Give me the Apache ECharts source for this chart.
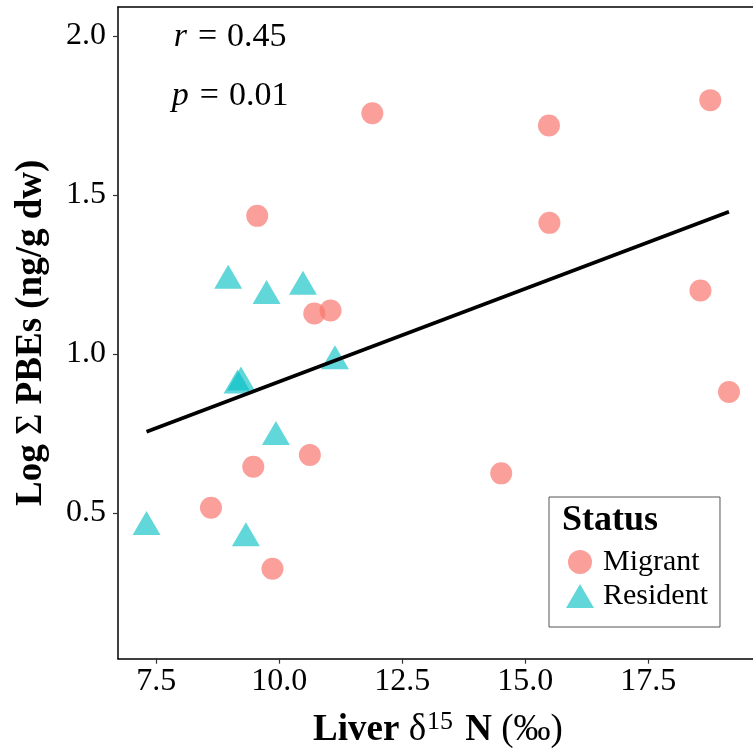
<!DOCTYPE html>
<html>
<head>
<meta charset="utf-8">
<script src="https://cdn.jsdelivr.net/npm/echarts@6/dist/echarts.min.js"></script>
<style>
html,body{margin:0;padding:0;background:#fff;}
#chart{width:753px;height:748px;}
</style>
</head>
<body>
<div id="chart"></div>
<script>
// ---- data ----
const migrantX = [9.55, 10.71, 11.04, 11.89, 15.48, 18.76, 15.49, 18.56, 19.14, 14.51, 9.47, 10.62, 8.61, 9.86];
const migrantY = [1.434, 1.127, 1.136, 1.757, 1.718, 1.798, 1.412, 1.199, 0.880, 0.624, 0.645, 0.682, 0.516, 0.324];
const residentX = [8.96, 9.74, 10.48, 11.13, 9.22, 9.15, 9.93, 7.30, 9.32];
const residentY = [1.230, 1.182, 1.211, 0.977, 0.910, 0.900, 0.738, 0.455, 0.420];
const fitX = [7.30, 19.14];
const fitY = [0.755, 1.447];
const xTicks = [7.5, 10.0, 12.5, 15.0, 17.5];
const yTicks = [0.5, 1.0, 1.5, 2.0];
const statNames = ['r', 'p'];
const statValues = ['0.45', '0.01'];
const statX = [9.0, 9.0];
const statY = [1.995, 1.81];
const seriesNames = ['Migrant', 'Resident'];

const serif = '"Liberation Serif", "DejaVu Serif", serif';
const zip = (a, b) => a.map((v, i) => [v, b[i]]);

const chart = echarts.init(document.getElementById('chart'), null, {renderer: 'canvas'});

const xRange = {min: 6.72, max: 19.73};
const yRange = {min: 0.041, max: 2.091};

const option = {
  animation: false,
  backgroundColor: '#ffffff',
  grid: {left: 118, top: 7, width: 640, height: 651.7, containLabel: false, outerBoundsMode: 'none'},
  xAxis: [{
    type: 'value', min: xRange.min, max: xRange.max,
    name: '{b|Liver }{r|δ}{s|15}{b| N }{r|(‰)}',
    nameLocation: 'middle', nameGap: 50,
    nameTextStyle: {
      rich: {
        b: {fontFamily: serif, fontWeight: 'bold', fontSize: 37, color: '#000', lineHeight: 40, verticalAlign: 'bottom'},
        r: {fontFamily: serif, fontSize: 37, color: '#000', lineHeight: 40, verticalAlign: 'bottom'},
        s: {fontFamily: serif, fontSize: 26, color: '#000', lineHeight: 40, verticalAlign: 'top', padding: [0, 3, 0, 1]}
      }
    },
    axisLine: {show: true, onZero: false, lineStyle: {color: '#000', width: 1.5}},
    axisTick: {show: true, length: 5, customValues: xTicks, lineStyle: {color: '#333', width: 1.2}},
    axisLabel: {show: true, customValues: xTicks, margin: 7, formatter: v => Number(v).toFixed(1),
      fontFamily: serif, fontSize: 32, color: '#000'},
    splitLine: {show: false}
  }, {
    type: 'value', position: 'top', min: xRange.min, max: xRange.max,
    axisLine: {show: true, onZero: false, lineStyle: {color: '#000', width: 1.5}},
    axisTick: {show: false}, axisLabel: {show: false}, splitLine: {show: false}
  }],
  yAxis: {
    type: 'value', min: yRange.min, max: yRange.max,
    name: '{b|Log }{r|Σ}{b| PBEs (ng/g dw)}',
    nameLocation: 'middle', nameGap: 68, nameRotate: 90,
    nameTextStyle: {
      rich: {
        b: {fontFamily: serif, fontWeight: 'bold', fontSize: 37, color: '#000'},
        r: {fontFamily: serif, fontSize: 37, color: '#000'}
      }
    },
    axisLine: {show: true, onZero: false, lineStyle: {color: '#000', width: 1.5}},
    axisTick: {show: true, length: 5, customValues: yTicks, lineStyle: {color: '#333', width: 1.2}},
    axisLabel: {show: true, customValues: yTicks, margin: 12, formatter: v => Number(v).toFixed(1),
      fontFamily: serif, fontSize: 32, color: '#000'},
    splitLine: {show: false}
  },
  legend: {
    show: true,
    data: [{name: seriesNames[0], icon: 'circle'}, {name: seriesNames[1], icon: 'triangle'}],
    orient: 'vertical',
    left: 549, top: 497,
    padding: [50, 12, 16, 17],
    itemWidth: 28, itemHeight: 24, itemGap: 4,
    borderColor: '#555', borderWidth: 1, borderRadius: 0,
    textStyle: {fontFamily: serif, fontSize: 30, color: '#000', padding: [0, 0, 0, 4]},
    selectedMode: false
  },
  graphic: [{
    type: 'text', left: 562, top: 503, silent: true,
    style: {text: 'Status', fontFamily: serif, fontWeight: 'bold', fontSize: 36, fill: '#000'}
  }],
  series: [{
    name: seriesNames[0], type: 'scatter', symbol: 'circle', symbolSize: 22,
    itemStyle: {color: '#F8766D', opacity: 0.7},
    data: zip(migrantX, migrantY), z: 3
  }, {
    name: seriesNames[1], type: 'scatter', symbol: 'triangle', symbolSize: [28, 24], symbolOffset: [0, -4],
    itemStyle: {color: '#00BFC4', opacity: 0.62},
    data: zip(residentX, residentY), z: 3
  }, {
    name: 'fit', type: 'line', showSymbol: false, symbol: 'none',
    lineStyle: {color: '#000', width: 3.6}, data: zip(fitX, fitY), z: 4, silent: true
  }, {
    name: 'stats', type: 'scatter', symbolSize: 1, silent: true,
    itemStyle: {color: 'rgba(0,0,0,0)'},
    data: statX.map((x, i) => ({value: [x, statY[i]], stat: statNames[i], val: statValues[i]})),
    label: {
      show: true, position: 'inside', opacity: 1,
      formatter: p => '{i|' + p.data.stat + '}{e|=}{t|' + p.data.val + '}',
      rich: {
        i: {fontFamily: serif, fontStyle: 'italic', fontSize: 34, color: '#000', textBorderWidth: 0},
        e: {fontFamily: serif, fontSize: 34, color: '#000', textBorderWidth: 0, padding: [0, 10, 0, 11]},
        t: {fontFamily: serif, fontSize: 34, color: '#000', textBorderWidth: 0}
      }
    },
    z: 5
  }]
};
chart.setOption(option);
</script>
</body>
</html>
